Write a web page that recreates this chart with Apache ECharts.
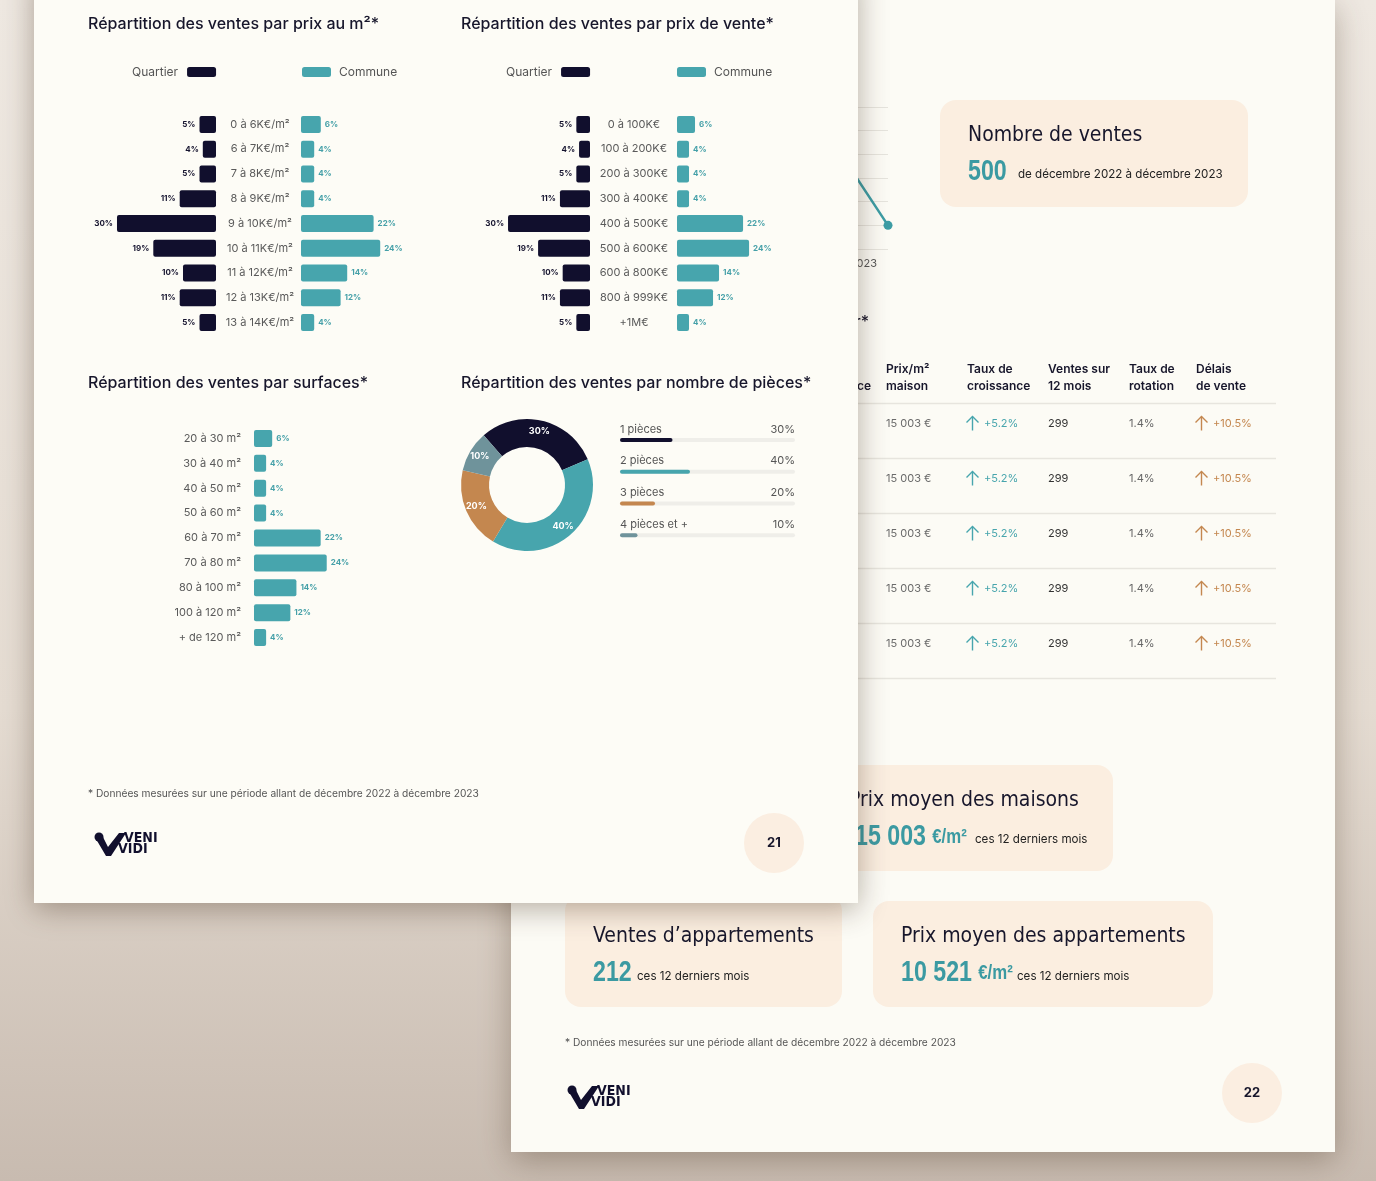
<!DOCTYPE html>
<html><head><meta charset="utf-8">
<script src="https://cdn.jsdelivr.net/npm/echarts@6/dist/echarts.min.js"></script>
<style>html,body{margin:0;padding:0;background:#e5ddd4;}#c{width:1376px;height:1181px;}</style>
</head><body><div id="c"></div>
<script>
// ---------- DATA ----------
const prixM2Cats = ['0 à 6K€/m²','6 à 7K€/m²','7 à 8K€/m²','8 à 9K€/m²','9 à 10K€/m²','10 à 11K€/m²','11 à 12K€/m²','12 à 13K€/m²','13 à 14K€/m²'];
const prixM2Quartier = [5,4,5,11,30,19,10,11,5];
const prixM2Commune = [6,4,4,4,22,24,14,12,4];
const prixVenteCats = ['0 à 100K€','100 à 200K€','200 à 300K€','300 à 400K€','400 à 500K€','500 à 600K€','600 à 800K€','800 à 999K€','+1M€'];
const prixVenteQuartier = [5,4,5,11,30,19,10,11,5];
const prixVenteCommune = [6,4,4,4,22,24,14,12,4];
const surfaceCats = ['20 à 30 m²','30 à 40 m²','40 à 50 m²','50 à 60 m²','60 à 70 m²','70 à 80 m²','80 à 100 m²','100 à 120 m²','+ de 120 m²'];
const surfaceValues = [6,4,4,4,22,24,14,12,4];
const piecesCats = ['1 pièces','2 pièces','3 pièces','4 pièces et +'];
const piecesValues = [30,40,20,10];
const trendCats = ['juin 2023','juil. 2023','août 2023','sept. 2023','oct. 2023','nov. 2023','déc. 2023'];
const trendValues = [28,34,31,39,42,45,10];
const tableHeaders = ['Prix/m²\nmaison','Taux de\ncroissance','Ventes sur\n12 mois','Taux de\nrotation','Délais\nde vente'];
const tablePrix = ['15 003 €','15 003 €','15 003 €','15 003 €','15 003 €'];
const tableCroissance = ['+5.2%','+5.2%','+5.2%','+5.2%','+5.2%'];
const tableVentes = ['299','299','299','299','299'];
const tableRotation = ['1.4%','1.4%','1.4%','1.4%','1.4%'];
const tableDelais = ['+10.5%','+10.5%','+10.5%','+10.5%','+10.5%'];
const statTitles = ['Nombre de ventes','Prix moyen des maisons','Ventes d’appartements','Prix moyen des appartements'];
const statValues = ['500','15 003','212','10 521'];
const statUnits = ['','€/m²','','€/m²'];
const statSubs = ['de décembre 2022 à décembre 2023','ces 12 derniers mois','ces 12 derniers mois','ces 12 derniers mois'];

// ---------- STYLE ----------
const FONT = 'Inter, "Noto Sans", sans-serif';
const COND = '"DejaVu Sans Condensed", "Liberation Sans Narrow", sans-serif';
const NUMF = '"Liberation Sans", Arial, sans-serif';
const NAVY = '#110f2d', TEAL = '#47a5ad', ORANGE = '#c4874f', SLATE = '#6f939b', INK = '#17162b';
const piecesColors = [NAVY, TEAL, ORANGE, SLATE];

const chart = echarts.init(document.getElementById('c'), null, {renderer:'canvas', width:1376, height:1181});

// ---------- GRAPHIC ----------
const G = [];
function T(x,y,text,font,fill,align,va,z,rich,sx){
  const st = {text, font, fill, textAlign: align||'left', textVerticalAlign: va||'middle'};
  if (rich) st.rich = rich;
  const el = {type:'text', x, y, z: z==null?2:z, silent:true, style: st};
  if (sx) el.scaleX = sx;
  G.push(el);
}
function R(x,y,w,h,r,fill,z,extra){
  G.push({type:'rect', z, silent:true, shape:{x,y,width:w,height:h,r}, style:Object.assign({fill}, extra||{})});
}
function arrow(x,y,color,z){
  G.push({type:'polyline', z, silent:true, shape:{points:[[x,y+7],[x,y-7]]}, style:{stroke:color, lineWidth:1.4, fill:null}});
  G.push({type:'polyline', z, silent:true, shape:{points:[[x-6,y-1],[x,y-7],[x+6,y-1]]}, style:{stroke:color, lineWidth:1.4, fill:null}});
}
function logo(ox,oy,z){
  G.push({type:'circle', z, silent:true, shape:{cx:ox+5, cy:oy+5, r:4.5}, style:{fill:NAVY}});
  G.push({type:'polygon', z, silent:true, shape:{points:[[ox+2,oy+7],[ox+9,oy+5],[ox+14,oy+15],[ox+25,oy+1],[ox+32,oy+1],[ox+17,oy+24],[ox+12,oy+24]]}, style:{fill:NAVY}});
  T(ox+30, oy+6, 'VENI', 'bold 14px '+COND, NAVY, 'left', 'middle', z);
  T(ox+24, oy+17.5, 'VIDI', 'bold 14px '+COND, NAVY, 'left', 'middle', z);
}

// background
G.push({type:'rect', z:0, silent:true, shape:{x:0,y:0,width:1376,height:1181},
  style:{fill:{type:'linear',x:0,y:0,x2:0,y2:1,colorStops:[{offset:0,color:'#eee8e1'},{offset:0.6,color:'#e4dbd1'},{offset:1,color:'#c8bbb0'}]}}});

// ----- page 22 -----
R(511,0,824,1152,0,'#fcfbf5',1,{shadowBlur:30, shadowColor:'rgba(70,50,30,0.35)', shadowOffsetY:8});
T(869,322,'Prix au m² par quartier*','500 16px '+FONT,INK,'right','middle',2);
T(871,386,'Référence','600 12px '+FONT,INK,'right','middle',2);
const colX = [886,967,1048,1129,1196];
tableHeaders.forEach((h,i)=>{ const p=h.split('\n'); T(colX[i],369,p[0],'600 12px '+FONT,INK,'left','middle',2); T(colX[i],386,p[1],'600 12px '+FONT,INK,'left','middle',2); });
for (let k=0;k<6;k++){ G.push({type:'line', z:2, silent:true, shape:{x1:840,y1:403.5+55*k,x2:1276,y2:403.5+55*k}, style:{stroke:'#e7e5de', lineWidth:1.5}}); }
tablePrix.forEach((v,r)=>{
  const y = 423.5 + 55*r;
  T(886,y,v,'11px '+FONT,'#6a6a6a','left','middle',2);
  arrow(972.5,y,TEAL,2);
  T(984,y,tableCroissance[r],'11px '+FONT,TEAL,'left','middle',2);
  T(1048,y,tableVentes[r],'11px '+FONT,'#333','left','middle',2);
  T(1129,y,tableRotation[r],'11px '+FONT,'#666','left','middle',2);
  arrow(1201.5,y,ORANGE,2);
  T(1213,y,tableDelais[r],'11px '+FONT,ORANGE,'left','middle',2);
});
// stat boxes
const boxes = [[940,100,308,107],[826,765,287,106],[565,895,277,112],[873,901,340,106]];
const boxText = [[968,136,172,1018,175],[849,801,837,975,840],[593,937,973,637,977],[901,937,973,1017,977]];
boxes.forEach((b,i)=>{
  R(b[0],b[1],b[2],b[3],16,'#fbeee0',2);
  const t = boxText[i];
  T(t[0],t[1],statTitles[i],'21px '+COND,INK,'left','middle',3);
  const nx = i===1 ? t[0]+6 : t[0];
  const txt = statUnits[i] ? '{a|'+statValues[i]+'} {b|'+statUnits[i]+'}' : '{a|'+statValues[i]+'}';
  T(nx,t[2],txt,'bold 28px '+NUMF,'#3b9aa2','left','middle',3,{a:{font:'bold 29px '+NUMF, fill:'#3b9aa2'}, b:{font:'bold 21px '+NUMF, fill:'#3b9aa2'}},0.8);
  T(t[3],t[4],statSubs[i],'11.6px '+FONT,'#222','left','middle',3);
});
T(565,1043,'* Données mesurées sur une période allant de décembre 2022 à décembre 2023','10.2px '+FONT,'#555','left','middle',2);
logo(567,1085,2);
G.push({type:'circle', z:2, silent:true, shape:{cx:1252,cy:1093,r:30}, style:{fill:'#fbeee1'}});
T(1252,1093,'22','bold 13px '+FONT,INK,'center','middle',3);

// ----- page 21 -----
R(34,-30,824,933,0,'#fdfcf6',10,{shadowBlur:28, shadowColor:'rgba(60,40,20,0.38)', shadowOffsetY:6});
T(88,24,'Répartition des ventes par prix au m²*','500 16px '+FONT,INK,'left','middle',11);
T(461,24,'Répartition des ventes par prix de vente*','500 16px '+FONT,INK,'left','middle',11);
T(88,383,'Répartition des ventes par surfaces*','500 16px '+FONT,INK,'left','middle',11);
T(461,383,'Répartition des ventes par nombre de pièces*','500 16px '+FONT,INK,'left','middle',11);
T(88,794,'* Données mesurées sur une période allant de décembre 2022 à décembre 2023','10.2px '+FONT,'#555','left','middle',11);
logo(94,832,11);
G.push({type:'circle', z:11, silent:true, shape:{cx:774,cy:843,r:30}, style:{fill:'#fbeee1'}});
T(774,843,'21','bold 13px '+FONT,INK,'center','middle',12);

// ---------- AXES ----------
const Z = 12;
const hv = (gi,max,inv)=>({type:'value', gridIndex:gi, min:0, max, inverse:!!inv, show:false, z:Z});
const catLbl = (gi,data,margin,align,show)=>({type:'category', gridIndex:gi, data, inverse:true, z:Z, show: show!==false,
  axisLine:{show:false}, axisTick:{show:false}, splitLine:{show:false},
  axisLabel:{margin, align, color:'#5a5a5a', fontSize:11, fontFamily:FONT}});
const barLbl = (pos,color)=>({show:true, position:pos, distance:4, formatter:'{c}%', fontSize:8, fontWeight:'bold', fontFamily:FONT, color});
const lg = (name,left,align,pad)=>({data:[name], left, top:66, align, itemWidth:29, itemHeight:10, padding:0, icon:'roundRect', selectedMode:false, z:Z,
  textStyle:{fontSize:12, color:'#555', fontFamily:FONT, padding:pad}});

const option = {
  animation:false,
  backgroundColor:'transparent',
  graphic: G,
  grid: [
    {left:116, top:112, width:100, height:223, outerBoundsMode:'none'},
    {left:301, top:112, width:100, height:223, outerBoundsMode:'none'},
    {left:490, top:112, width:100, height:223, outerBoundsMode:'none'},
    {left:677, top:112, width:100, height:223, outerBoundsMode:'none'},
    {left:254, top:426, width:100, height:224, outerBoundsMode:'none'},
    {left:620, top:424, width:175, height:127, outerBoundsMode:'none'},
    {left:560, top:107, width:328, height:142, outerBoundsMode:'none'}
  ],
  legend: [
    lg('Quartier',132,'right',[0,4,0,0]),
    lg('Commune',302,'left',[0,0,0,3]),
    lg('Quartier',506,'right',[0,4,0,0]),
    lg('Commune',677,'left',[0,0,0,3])
  ],
  xAxis: [
    hv(0,30.3,true), hv(1,30.3), hv(2,36.6,true), hv(3,33.3), hv(4,33), hv(5,100),
    {type:'category', gridIndex:6, data:trendCats, boundaryGap:false, z:3,
      axisLine:{show:false}, axisTick:{show:false},
      axisLabel:{align:'right', padding:[0,11,0,0], color:'#555', fontSize:11, fontFamily:FONT, interval:0, margin:9}}
  ],
  yAxis: [
    catLbl(0,prixM2Cats,0,'right',false),
    catLbl(1,prixM2Cats,41,'center'),
    catLbl(2,prixVenteCats,0,'right',false),
    catLbl(3,prixVenteCats,43,'center'),
    catLbl(4,surfaceCats,13,'right'),
    {type:'category', gridIndex:5, data:piecesCats, inverse:true, position:'left', z:Z,
      axisLine:{show:false}, axisTick:{show:false},
      axisLabel:{inside:true, margin:0, align:'left', verticalAlign:'bottom', padding:[0,0,5,0], color:'#555', fontSize:11, fontFamily:FONT}},
    {type:'category', gridIndex:5, data:piecesValues.map(v=>v+'%'), inverse:true, position:'right', z:Z,
      axisLine:{show:false}, axisTick:{show:false},
      axisLabel:{inside:true, margin:0, align:'right', verticalAlign:'bottom', padding:[0,0,5,0], color:'#555', fontSize:11, fontFamily:FONT}},
    {type:'value', gridIndex:6, min:0, max:60, interval:10, z:3,
      axisLine:{show:false}, axisTick:{show:false}, axisLabel:{show:false},
      splitLine:{lineStyle:{color:'#e6e4dd', width:1.2}}}
  ],
  series: [
    {type:'bar', name:'Quartier', xAxisIndex:0, yAxisIndex:0, data:prixM2Quartier, barWidth:17, z:Z, silent:true,
      itemStyle:{color:NAVY, borderRadius:2}, label:barLbl('left','#15132e')},
    {type:'bar', name:'Commune', xAxisIndex:1, yAxisIndex:1, data:prixM2Commune, barWidth:17, z:Z, silent:true,
      itemStyle:{color:TEAL, borderRadius:2}, label:barLbl('right','#45a0a8')},
    {type:'bar', name:'Quartier', xAxisIndex:2, yAxisIndex:2, data:prixVenteQuartier, barWidth:17, z:Z, silent:true,
      itemStyle:{color:NAVY, borderRadius:2}, label:barLbl('left','#15132e')},
    {type:'bar', name:'Commune', xAxisIndex:3, yAxisIndex:3, data:prixVenteCommune, barWidth:17, z:Z, silent:true,
      itemStyle:{color:TEAL, borderRadius:2}, label:barLbl('right','#45a0a8')},
    {type:'bar', name:'Surfaces', xAxisIndex:4, yAxisIndex:4, data:surfaceValues, barWidth:17, z:Z, silent:true,
      itemStyle:{color:TEAL, borderRadius:2}, label:barLbl('right','#45a0a8')},
    {type:'bar', name:'Pièces', xAxisIndex:5, yAxisIndex:5, barWidth:4, z:Z, silent:true,
      showBackground:true, backgroundStyle:{color:'#efeee9', borderRadius:2},
      data: piecesValues.map((v,i)=>({value:v, itemStyle:{color:piecesColors[i], borderRadius:2}}))},
    {type:'pie', name:'Pièces donut', center:[527,485], radius:[38,66], startAngle:131, clockwise:true, z:Z, silent:true,
      avoidLabelOverlap:false, labelLine:{show:false},
      label:{show:true, position:'inside', formatter:'{c}%', color:'#fff', fontSize:9, fontWeight:'bold', fontFamily:FONT},
      data: piecesCats.map((n,i)=>({name:n, value:piecesValues[i], itemStyle:{color:piecesColors[i]}}))},
    {type:'line', name:'Ventes', xAxisIndex:6, yAxisIndex:7, data:trendValues, z:3, silent:true,
      symbol:'circle', symbolSize:9, lineStyle:{color:'#3c9ca4', width:2.5}, itemStyle:{color:'#3c9ca4'}}
  ]
};
chart.setOption(option);
</script></body></html>
